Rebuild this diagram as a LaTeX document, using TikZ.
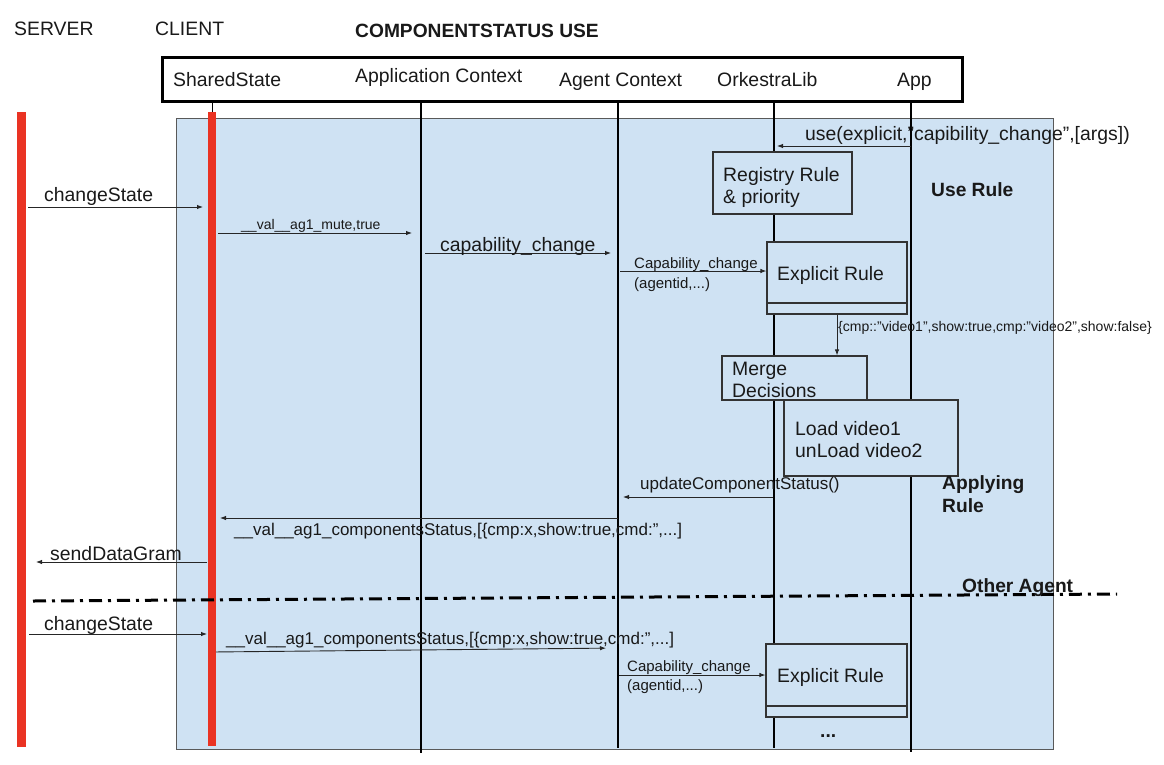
\documentclass[tikz,border=0pt]{standalone}
\usepackage{fontspec}
\setmainfont{Liberation Sans}
\usetikzlibrary{arrows.meta}
\definecolor{bluebg}{HTML}{CFE2F3}
\definecolor{redbar}{HTML}{EA3323}
\begin{document}
\begin{tikzpicture}[x=1pt,y=-1pt,
  f19/.style={font=\fontsize{19.4}{23}\selectfont},
  f19b/.style={font=\fontsize{19.2}{23}\selectfont\bfseries},
  f17/.style={font=\fontsize{17}{20}\selectfont},
  f15/.style={font=\fontsize{15}{18}\selectfont},
  f14/.style={font=\fontsize{14}{17}\selectfont},
  txt/.style={anchor=base west, inner sep=0pt, text=black!90},
  msg/.style={-{Latex[length=6pt,width=4.5pt]}, line width=0.9pt, draw=black!85},
  life/.style={line width=2.6pt, draw=black},
  bar/.style={line width=9pt, draw=redbar},
  box/.style={draw=black!80, line width=1.2pt, fill=bluebg, inner sep=0pt, anchor=center}]
\useasboundingbox (0,0) rectangle (1164,764);

% background panel
\filldraw[fill=bluebg, draw=black!65, line width=1pt] (176,118) rectangle (1053,749);

% header box
\node[draw, line width=3pt, minimum width=800pt, minimum height=44pt, inner sep=0pt] (hdr) at (562,79) {};

% lifeline anchors
\coordinate (srv) at (21,112);
\coordinate (cli) at (212,101);
\coordinate (apc) at (421,101);
\coordinate (agc) at (618,101);
\coordinate (ork) at (774,101);
\coordinate (app) at (911,101);

% lifelines
\draw[line width=1pt] (cli) -- (cli |- 0,120);
\draw[life] (apc) -- (apc |- 0,753);
\draw[life] (agc) -- (agc |- 0,748);
\draw[life] (ork) -- (ork |- 0,748);
\draw[life] (app) -- (app |- 0,752);
\draw[bar] (srv) -- (srv |- 0,747);
\draw[bar, line width=8pt] (cli |- 0,112) -- (cli |- 0,746);

% boxes
\node[box, minimum width=139pt, minimum height=62pt] (reg) at (782.5,183) {};
\node[box, minimum width=140pt, minimum height=61pt] (ex1) at (837,272.5) {};
\node[box, minimum width=140pt, minimum height=11pt] (st1) at (837,308.5) {};
\node[box, minimum width=145pt, minimum height=44pt] (merge) at (794.5,378) {};
\node[box, minimum width=174pt, minimum height=76pt] (load) at (871,438) {};
\node[box, minimum width=141pt, minimum height=62pt] (ex2) at (836.5,675) {};
\node[box, minimum width=141pt, minimum height=11pt] (st2) at (836.5,711.5) {};

% box texts
\node[txt,f19] (regA) at (723,181) {Registry Rule};
\node[txt,f19] (regB) at (723,203) {\& priority};
\node[txt,f19] (ex1T) at (777,280) {Explicit Rule};
\node[txt,f19] (mergeA) at (732,375) {Merge};
\node[txt,f19] (mergeB) at (732,397) {Decisions};
\node[txt,f19] (loadA) at (795,435) {Load video1};
\node[txt,f19] (loadB) at (795,457) {unLoad video2};
\node[txt,f19] (ex2T) at (777,682) {Explicit Rule};

% messages
\draw[msg, shorten >=3pt] (app |- 0,146) -- (ork |- 0,146);
\draw[msg, shorten <=7pt, shorten >=9pt] (srv |- 0,207) -- (cli |- 0,207);
\draw[msg, shorten <=6pt, shorten >=9pt] (cli |- 0,233) -- (apc |- 0,233);
\draw[msg, shorten <=4pt, shorten >=7pt] (apc |- 0,253) -- (agc |- 0,253);
\draw[msg, shorten <=2pt] (agc |- 0,271) -- (ex1.west |- 0,271);
\draw[msg] (st1.south) -- (st1.south |- merge.north);
\draw[msg, shorten <=1pt, shorten >=5pt] (ork |- 0,497) -- (agc |- 0,497);
\draw[msg, shorten >=8pt] (agc |- 0,518) -- (cli |- 0,518);
\draw[msg, shorten <=5pt, shorten >=15pt] (cli |- 0,562) -- (srv |- 0,562);
\draw[msg, shorten <=8pt, shorten >=5pt] (srv |- 0,634) -- (cli |- 0,634);
\draw[msg, shorten <=4pt, shorten >=12pt] (cli |- 0,652) -- (agc |- 0,648);
\draw[msg, shorten <=1pt] (agc |- 0,675) -- (ex2.west);

% separator
\coordinate (dd1) at (33,601);
\coordinate (dd2) at (1117,594);
\draw[line width=3pt, dash pattern=on 13pt off 6pt on 3pt off 6pt] (dd1) -- (dd2);

% texts
\node[txt,f19] (tServer) at (14,35) {SERVER};
\node[txt,f19] (tClient) at (155,35) {CLIENT};
\node[txt,f19b] (tTitle) at (355,37) {COMPONENTSTATUS USE};
\node[txt,f19] (hSS) at (173,86) {SharedState};
\node[txt,f19] (hAC) at (355,82) {Application Context};
\node[txt,f19] (hAg) at (559,86) {Agent Context};
\node[txt,f19] (hOL) at (717,86) {OrkestraLib};
\node[txt,f19] (hApp) at (897,86) {App};
\node[txt,f19] (tUse) at (805,140) {use(explicit,”capibility\_change”,[args])};
\node[txt,f19b] (tUR) at (931,196) {Use Rule};
\node[txt,f19] (tCS1) at (44,201) {changeState};
\node[txt,f14] (tMute) at (241,229) {\_\_val\_\_ag1\_mute,true};
\node[txt,f19] (tCap) at (440,251) {capability\_change};
\node[txt,f15] (tCap2a) at (634,268) {Capability\_change};
\node[txt,f15] (tCap2b) at (634,288) {(agentid,...)};
\node[txt,f14] (tCmp) at (838,331) {\{cmp::”video1”,show:true,cmp:”video2”,show:false\}};
\node[txt,f17] (tUpd) at (640,489) {updateComponentStatus()};
\node[txt,f19b] (tApp1) at (942,489) {Applying};
\node[txt,f19b] (tApp2) at (942,512) {Rule};
\node[txt,f17] (tCS) at (234,535) {\_\_val\_\_ag1\_componentsStatus,[\{cmp:x,show:true,cmd:”,...]};
\node[txt,f19] (tSDG) at (50,560) {sendDataGram};
\node[txt,f19b] (tOA) at (962,592) {Other Agent};
\node[txt,f19] (tCS2) at (44,630) {changeState};
\node[txt,f17] (tCS3) at (226,644) {\_\_val\_\_ag1\_componentsStatus,[\{cmp:x,show:true,cmd:”,...]};
\node[txt,f15] (tCap3a) at (627,671) {Capability\_change};
\node[txt,f15] (tCap3b) at (627,690) {(agentid,...)};
\node[txt,f19b] (tDots) at (820,737) {...};
\end{tikzpicture}
\end{document}
